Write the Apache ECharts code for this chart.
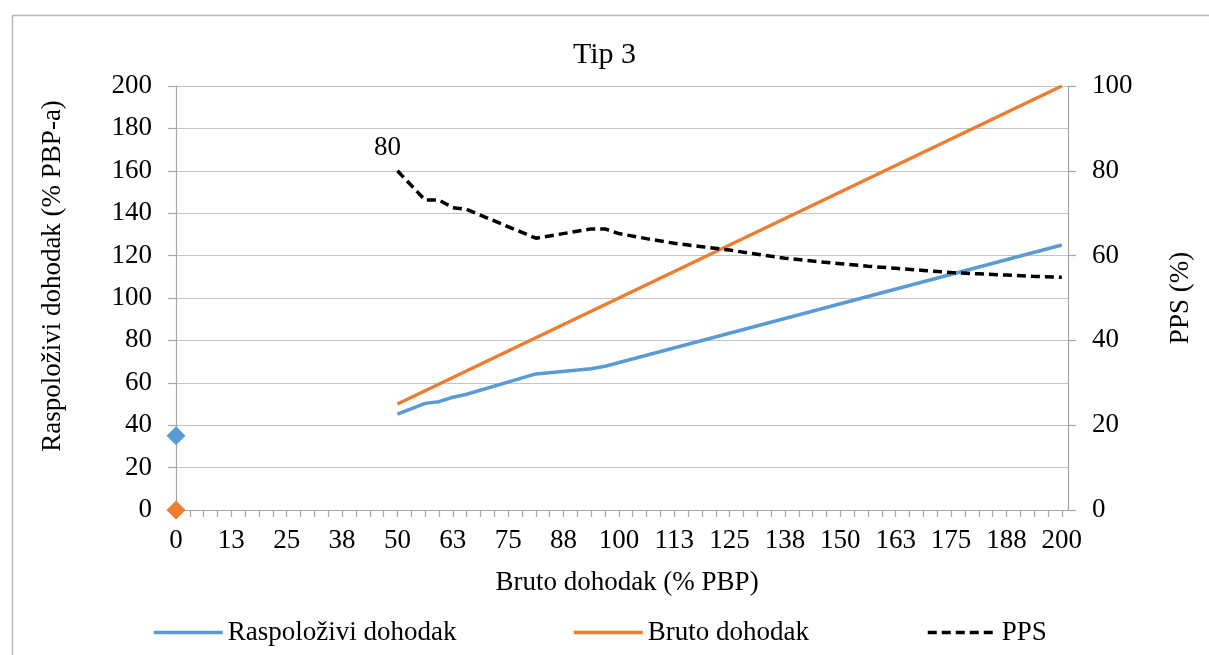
<!DOCTYPE html>
<html>
<head>
<meta charset="utf-8">
<script src="https://cdn.jsdelivr.net/npm/echarts@6/dist/echarts.min.js"></script>
<style>html,body{margin:0;padding:0;background:#fff;}#c{width:1209px;height:655px;}</style>
</head>
<body>
<div id="c"></div>
<script>
// ---- data ----
const xLabelValues = [0, 12.5, 25, 37.5, 50, 62.5, 75, 87.5, 100, 112.5, 125, 137.5, 150, 162.5, 175, 187.5, 200];
const raspolozivi = [[50, 45.2], [56.25, 50.3], [59.375, 51.1], [62.5, 53.2], [65.625, 54.6], [81.25, 64.2], [93.75, 66.6], [96.875, 67.8], [200, 125]];
const raspoloziviStart = [[0, 35]];
const bruto = [[50, 50], [200, 200]];
const brutoStart = [[0, 0]];
const pps = [[50, 80], [56.25, 73.1], [59.375, 73.1], [62.5, 71.3], [65.625, 70.9], [81.25, 64.1], [93.75, 66.3], [96.875, 66.3],
  [100, 65.2], [106.25, 64.0], [112.5, 62.9], [118.75, 62.1], [125, 61.3], [131.25, 60.3], [137.5, 59.4], [143.75, 58.7],
  [150, 58.1], [156.25, 57.5], [162.5, 57.0], [168.75, 56.5], [175, 56.0], [181.25, 55.7], [187.5, 55.4], [193.75, 55.1], [200, 54.9]];
const xTickStep = 3.125;

const xTickValues = [];
for (let v = 0; v <= 200 + 1e-9; v += xTickStep) xTickValues.push(v);

const FONT = "'Liberation Serif', 'Times New Roman', serif";
const FS = 27;
const AXIS = '#a6a6a6';
const GRIDC = '#c4c4c4';
const BLUE = '#5B9BD5', ORANGE = '#ED7D31';

const legendBase = {itemWidth: 69, itemHeight: 14, padding: 0, itemStyle: {opacity: 0},
  lineStyle: {width: 3.5},
  textStyle: {fontFamily: FONT, fontSize: FS, color: '#000'}};

const chart = echarts.init(document.getElementById('c'), null, {renderer: 'canvas'});
chart.setOption({
  animation: false,
  backgroundColor: '#fff',
  textStyle: {fontFamily: FONT, color: '#000'},
  title: {text: 'Tip 3', left: 'center', top: 40, padding: 0, textStyle: {fontFamily: FONT, fontSize: 30, fontWeight: 'normal', color: '#000'}},
  grid: {left: 176, right: 141, top: 86, bottom: 145, containLabel: false},
  legend: [
    Object.assign({data: ['Raspoloživi dohodak'], left: 152, top: 619}, legendBase),
    Object.assign({data: ['Bruto dohodak'], left: 572, top: 619}, legendBase),
    Object.assign({data: ['PPS'], left: 926, top: 619}, legendBase)
  ],
  xAxis: {
    type: 'value', min: 0, max: 201.4,
    axisLine: {show: true, onZero: false, lineStyle: {color: AXIS, width: 1.2}},
    axisTick: {show: true, customValues: xTickValues, length: 7, lineStyle: {color: AXIS, width: 1.2}},
    axisLabel: {customValues: xLabelValues, formatter: v => String(Math.round(v)), fontFamily: FONT, fontSize: FS, color: '#000', margin: 17},
    splitLine: {show: false}
  },
  yAxis: [
    {type: 'value', min: 0, max: 200, interval: 20, position: 'left',
     axisLine: {show: true, lineStyle: {color: AXIS, width: 1.2}},
     axisTick: {show: true, length: 8, lineStyle: {color: AXIS, width: 1.2}},
     axisLabel: {fontFamily: FONT, fontSize: FS, color: '#000', margin: 24},
     splitLine: {show: true, lineStyle: {color: GRIDC, width: 1.2}}},
    {type: 'value', min: 0, max: 100, interval: 20, position: 'right',
     axisLine: {show: true, lineStyle: {color: AXIS, width: 1.2}},
     axisTick: {show: true, length: 8, lineStyle: {color: AXIS, width: 1.2}},
     axisLabel: {fontFamily: FONT, fontSize: FS, color: '#000', margin: 24},
     splitLine: {show: false}}
  ],
  graphic: [
    {type: 'rect', left: 10, top: 13, z: -10, silent: true, shape: {width: 1215, height: 660}, style: {fill: 'none', stroke: '#b8b8b8', lineWidth: 1.5}},
    {type: 'text', x: 53, y: 276, rotation: Math.PI / 2, silent: true,
     style: {text: 'Raspoloživi dohodak (% PBP-a)', font: FS + 'px ' + FONT, fill: '#000', align: 'center', verticalAlign: 'middle'}},
    {type: 'text', x: 1181, y: 298, rotation: Math.PI / 2, silent: true,
     style: {text: 'PPS (%)', font: FS + 'px ' + FONT, fill: '#000', align: 'center', verticalAlign: 'middle'}},
    {type: 'text', x: 627, y: 583, silent: true,
     style: {text: 'Bruto dohodak (% PBP)', font: FS + 'px ' + FONT, fill: '#000', align: 'center', verticalAlign: 'middle'}}
  ],
  series: [
    {name: 'Raspoloživi dohodak', type: 'line', yAxisIndex: 0, data: raspolozivi, symbol: 'none',
     lineStyle: {color: BLUE, width: 3.5}, itemStyle: {color: BLUE}, z: 3},
    {name: 'Bruto dohodak', type: 'line', yAxisIndex: 0, data: bruto, symbol: 'none',
     lineStyle: {color: ORANGE, width: 3.5}, itemStyle: {color: ORANGE}, z: 3},
    {name: 'PPS', type: 'line', yAxisIndex: 1, data: pps, symbol: 'none',
     lineStyle: {color: '#000', width: 3.5, type: [9, 5], cap: 'butt'}, itemStyle: {color: '#000'}, z: 4,
     markPoint: {symbol: 'circle', symbolSize: 0, data: [{coord: pps[0], value: pps[0][1]}],
       label: {show: true, position: 'top', offset: [-10, -4], formatter: p => String(p.value), fontFamily: FONT, fontSize: FS, color: '#000'}}},
    {name: 'RaspStart', type: 'scatter', yAxisIndex: 0, data: raspoloziviStart, symbol: 'diamond', symbolSize: 19,
     itemStyle: {color: BLUE, opacity: 1}, clip: false, z: 5},
    {name: 'BrutoStart', type: 'scatter', yAxisIndex: 0, data: brutoStart, symbol: 'diamond', symbolSize: 19,
     itemStyle: {color: ORANGE, opacity: 1}, clip: false, z: 5}
  ]
});
</script>
</body>
</html>
